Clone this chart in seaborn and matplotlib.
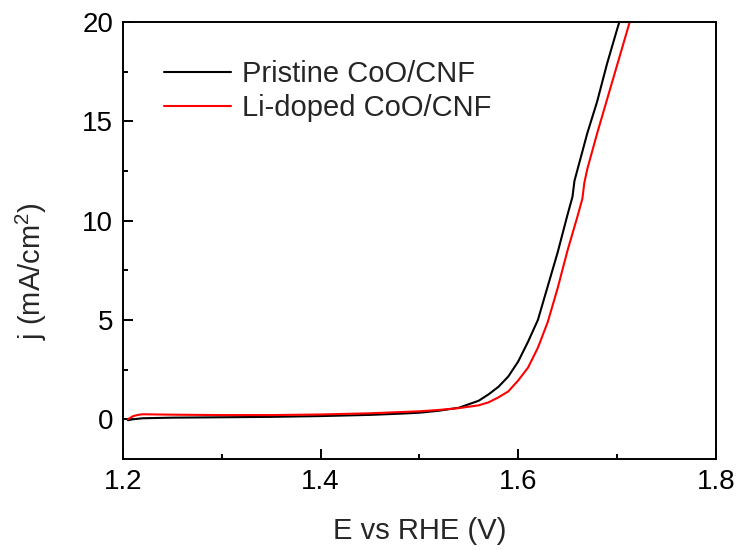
import matplotlib
matplotlib.use("Agg")
import matplotlib.pyplot as plt
import seaborn as sns
import pandas as pd
from matplotlib.ticker import MultipleLocator

# Data
e_pristine = [1.205, 1.21, 1.22, 1.25, 1.30, 1.35, 1.40, 1.45, 1.48, 1.50, 1.52, 1.54,
              1.56, 1.57, 1.58, 1.59, 1.60, 1.61, 1.62, 1.63, 1.64, 1.65, 1.655, 1.657,
              1.67, 1.68, 1.69, 1.70, 1.703]
j_pristine = [-0.05, 0.0, 0.05, 0.08, 0.10, 0.12, 0.16, 0.22, 0.28, 0.33, 0.43, 0.58,
              0.93, 1.25, 1.63, 2.15, 2.9, 3.9, 5.0, 6.7, 8.4, 10.3, 11.2, 12.0,
              14.4, 16.0, 17.9, 19.6, 20.1]
e_li = [1.205, 1.21, 1.215, 1.22, 1.25, 1.30, 1.35, 1.40, 1.45, 1.50, 1.52, 1.54,
        1.56, 1.57, 1.58, 1.59, 1.60, 1.61, 1.62, 1.63, 1.64, 1.65, 1.66, 1.665, 1.667,
        1.67, 1.68, 1.69, 1.70, 1.71, 1.7135]
j_li = [0.0, 0.15, 0.22, 0.25, 0.23, 0.21, 0.21, 0.24, 0.30, 0.40, 0.47, 0.56,
        0.70, 0.85, 1.10, 1.40, 1.95, 2.6, 3.6, 4.9, 6.6, 8.5, 10.2, 11.1, 11.9,
        12.6, 14.4, 16.1, 17.8, 19.5, 20.1]
labels = ["Pristine CoO/CNF", "Li-doped CoO/CNF"]
colors = ["#000000", "#ff0000"]
x_ticks = [1.2, 1.4, 1.6, 1.8]
x_ticklabels = ["1.2", "1.4", "1.6", "1.8"]

df = pd.concat([
    pd.DataFrame({"E": e_pristine, "j": j_pristine, "sample": labels[0]}),
    pd.DataFrame({"E": e_li, "j": j_li, "sample": labels[1]}),
])

sns.set_style("ticks")
plt.rcParams["font.family"] = ["Liberation Sans", "DejaVu Sans"]
plt.rcParams["mathtext.default"] = "regular"

fig = plt.figure(figsize=(7.39, 5.5), dpi=100)
ax = fig.add_axes([0.1664, 0.1655, 0.8021, 0.7945])

sns.lineplot(data=df, x="E", y="j", hue="sample", palette=dict(zip(labels, colors)),
             sort=False, estimator=None, linewidth=1.5, ax=ax)

ax.set_xlim(1.2, 1.8)
ax.set_ylim(-2, 20)
ax.set_xticks(x_ticks)
ax.set_xticklabels(x_ticklabels)
ax.xaxis.set_minor_locator(MultipleLocator(0.1))
ax.yaxis.set_major_locator(MultipleLocator(5))
ax.yaxis.set_minor_locator(MultipleLocator(2.5))
ax.tick_params(which="major", direction="in", length=7, width=1.4, labelsize=20,
               colors="black", pad=7)
ax.tick_params(which="minor", direction="in", length=3.5, width=1.4, colors="black")
for s in ax.spines.values():
    s.set_linewidth(1.4)
    s.set_color("black")

ax.set_xlabel("E vs RHE (V)", fontsize=21, labelpad=16)
ax.set_ylabel("j (mA/cm$^{2}$)", fontsize=21)
ax.yaxis.set_label_coords(-0.125, 0.43)

leg = ax.legend(loc="upper left", bbox_to_anchor=(0.05, 0.94), frameon=False,
                fontsize=21, handlelength=2.3, handletextpad=0.35, labelspacing=0.2,
                borderaxespad=0, title=None)

fig.savefig("out.png", dpi=100)
